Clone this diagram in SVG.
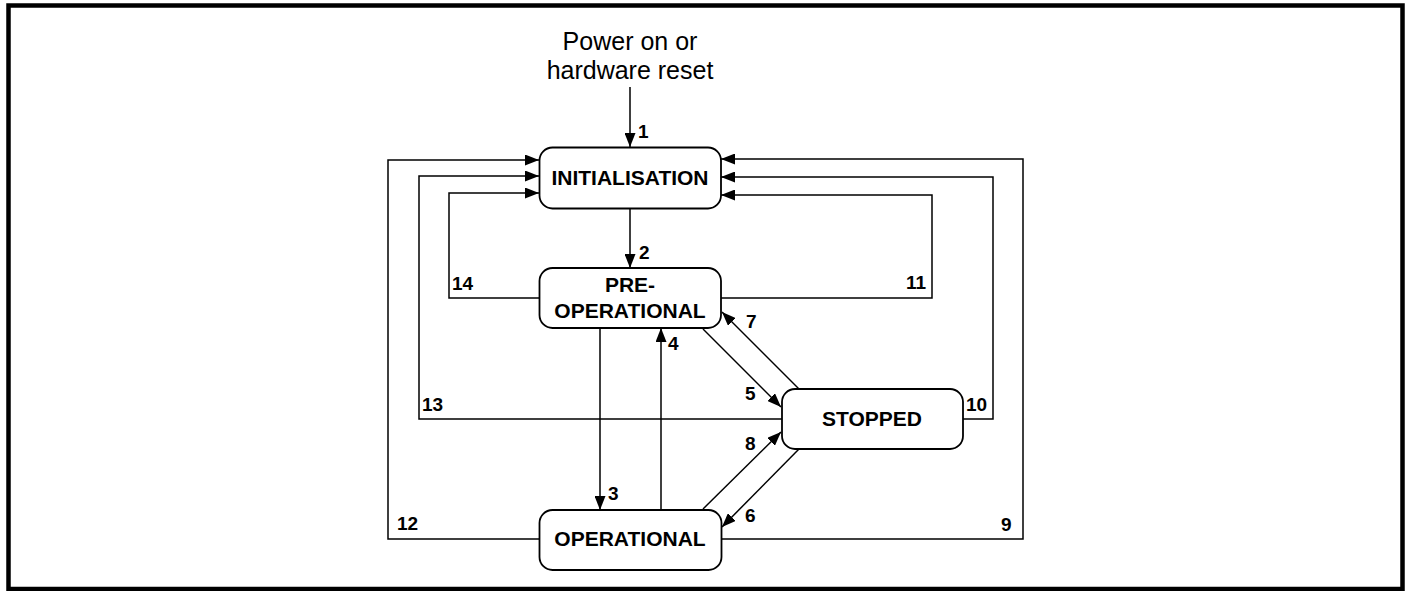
<svg xmlns="http://www.w3.org/2000/svg" width="1405" height="591" viewBox="0 0 1405 591">
<style>
.frame{fill:#fff;stroke:#000;stroke-width:4.5}
.box{fill:#fff;stroke:#000;stroke-width:1.8}
.ln{fill:none;stroke:#000;stroke-width:1.5}
.nt{font-family:"Liberation Sans",Arial,sans-serif;font-weight:bold;font-size:21px;text-anchor:middle;fill:#000}
.lb{font-family:"Liberation Sans",Arial,sans-serif;font-weight:bold;font-size:19px;fill:#000}
.tt{font-family:"Liberation Sans",Arial,sans-serif;font-size:25px;text-anchor:middle;fill:#000}
</style>
<defs>
<marker id="ah" markerUnits="userSpaceOnUse" markerWidth="15" markerHeight="11" refX="14" refY="5.5" orient="auto">
<path d="M0,0 L14,5.5 L0,11 Z" fill="#000"/>
</marker>
</defs>
<rect class="frame" x="8.5" y="5.5" width="1394" height="583.5"/>
<text class="tt" x="630" y="50">Power on or</text>
<text class="tt" x="630" y="79">hardware reset</text>
<g id="connectors">
<path class="ln" d="M630,87 V147" marker-end="url(#ah)"/>
<path class="ln" d="M630,209 V268" marker-end="url(#ah)"/>
<path class="ln" d="M600,328 V510" marker-end="url(#ah)"/>
<path class="ln" d="M661,510 V328" marker-end="url(#ah)"/>
<path class="ln" d="M703,329 L781,407" marker-end="url(#ah)"/>
<path class="ln" d="M799,389 L722,312" marker-end="url(#ah)"/>
<path class="ln" d="M703,509 L781,432" marker-end="url(#ah)"/>
<path class="ln" d="M799,449 L722,527" marker-end="url(#ah)"/>
<path class="ln" d="M539,298 H449 V193 H539" marker-end="url(#ah)"/>
<path class="ln" d="M782,419 H419 V176 H539" marker-end="url(#ah)"/>
<path class="ln" d="M539,539 H388 V160 H539" marker-end="url(#ah)"/>
<path class="ln" d="M721,298 H932 V195 H721" marker-end="url(#ah)"/>
<path class="ln" d="M963,419 H993 V177 H721" marker-end="url(#ah)"/>
<path class="ln" d="M722,539 H1023 V159 H721" marker-end="url(#ah)"/>
<text class="lb" x="638" y="138">1</text>
<text class="lb" x="639" y="259">2</text>
<text class="lb" x="608" y="500">3</text>
<text class="lb" x="668" y="350">4</text>
<text class="lb" x="745" y="400">5</text>
<text class="lb" x="745" y="522">6</text>
<text class="lb" x="746" y="328">7</text>
<text class="lb" x="745" y="450">8</text>
<text class="lb" x="1001" y="531">9</text>
<text class="lb" x="966" y="411">10</text>
<text class="lb" x="906" y="289">11</text>
<text class="lb" x="397" y="530">12</text>
<text class="lb" x="422" y="411">13</text>
<text class="lb" x="452" y="290">14</text>
</g>
<g id="initialisation">
<rect class="box" x="539.5" y="147.5" width="181.5" height="61" rx="13"/>
<text class="nt" x="630" y="185">INITIALISATION</text>
</g>
<g id="preoperational">
<rect class="box" x="539.5" y="268" width="181.5" height="60" rx="13"/>
<text class="nt" x="630" y="292">PRE-</text>
<text class="nt" x="630" y="318">OPERATIONAL</text>
</g>
<g id="stopped">
<rect class="box" x="782" y="389" width="181" height="60" rx="13"/>
<text class="nt" x="872" y="426">STOPPED</text>
</g>
<g id="operational">
<rect class="box" x="539.5" y="510" width="182" height="60" rx="13"/>
<text class="nt" x="630" y="546">OPERATIONAL</text>
</g>
</svg>
